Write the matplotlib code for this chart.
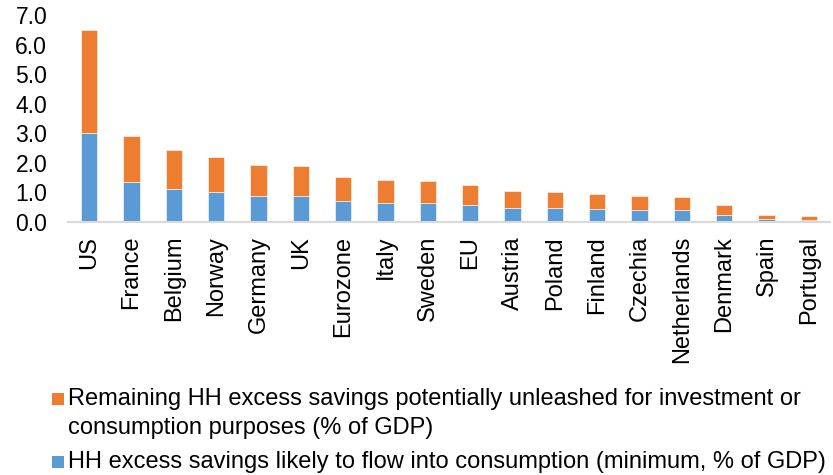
import matplotlib
matplotlib.use("Agg")
import matplotlib.pyplot as plt
from matplotlib.patches import Rectangle
import numpy as np

plt.rcParams['font.family'] = ['Liberation Sans', 'DejaVu Sans']

categories = ["US", "France", "Belgium", "Norway", "Germany", "UK", "Eurozone", "Italy",
              "Sweden", "EU", "Austria", "Poland", "Finland", "Czechia", "Netherlands",
              "Denmark", "Spain", "Portugal"]
consumption = [3.0, 1.36, 1.12, 1.02, 0.89, 0.88, 0.71, 0.65,
               0.65, 0.58, 0.48, 0.46, 0.45, 0.39, 0.39, 0.25, 0.10, 0.08]
totals = [6.5, 2.92, 2.44, 2.21, 1.94, 1.91, 1.52, 1.43,
          1.40, 1.26, 1.04, 1.01, 0.95, 0.88, 0.86, 0.56, 0.25, 0.19]
remaining = [t - c for t, c in zip(totals, consumption)]

label_rem = "Remaining HH excess savings potentially unleashed for investment or\nconsumption purposes (% of GDP)"
label_con = "HH excess savings likely to flow into consumption (minimum, % of GDP)"
yticks = [0, 1, 2, 3, 4, 5, 6, 7]

blue = "#5B9BD5"
orange = "#ED7D31"

W, H = 833, 475
fig = plt.figure(figsize=(W / 100, H / 100), dpi=100)
ax = fig.add_axes([68 / W, 1 - 222 / H, (830 - 68) / W, (222 - 15) / H])

x = np.arange(len(categories))
ax.bar(x, consumption, width=0.385, color=blue, edgecolor="white", linewidth=0.4)
ax.bar(x, remaining, bottom=consumption, width=0.385, color=orange, edgecolor="white", linewidth=0.4)

ax.set_xlim(-0.5, len(categories) - 0.5)
ax.set_ylim(0, 7)
ax.set_yticks(yticks)
ax.set_yticklabels([f"{v:.1f}" for v in yticks], fontsize=16.5)
ax.set_xticks(x)
ax.set_xticklabels(categories, rotation=90, fontsize=17, va="top", ha="center")
ax.tick_params(axis="y", length=0, pad=15, colors="#000000")
ax.tick_params(axis="x", length=0, pad=10)
for s in ["top", "right", "left"]:
    ax.spines[s].set_visible(False)
ax.spines["bottom"].set_color("#D9D9D9")
ax.spines["bottom"].set_linewidth(1.5)

# legend (manual, handle aligned to first line)
fs_leg = 17
sq = 12
# orange entry (two lines)
fig.add_artist(Rectangle((52 / W, 1 - 405 / H), sq / W, sq / H,
                         transform=fig.transFigure, color=orange, lw=0))
fig.text(68 / W, 1 - 388 / H, label_rem, fontsize=fs_leg, va="top", ha="left",
         linespacing=1.42)
# blue entry
fig.add_artist(Rectangle((52 / W, 1 - 468 / H), sq / W, sq / H,
                         transform=fig.transFigure, color=blue, lw=0))
fig.text(68 / W, 1 - 468 / H, label_con, fontsize=fs_leg, va="baseline", ha="left")

fig.savefig("out.png", dpi=100)
